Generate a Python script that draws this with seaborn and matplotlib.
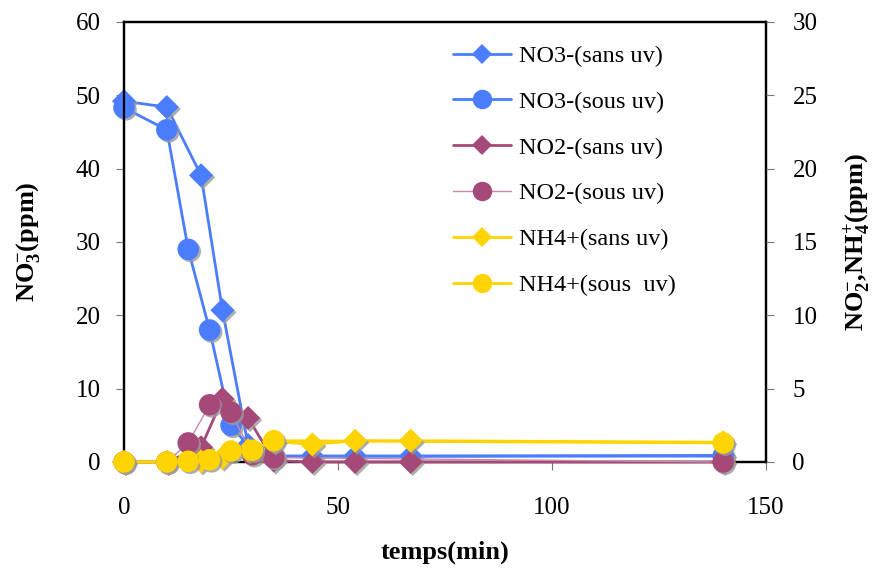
import matplotlib
matplotlib.use("Agg")
import matplotlib.pyplot as plt
import matplotlib.patheffects as pe
from matplotlib.lines import Line2D
import seaborn as sns

# ---- data ----
t_sans = [0, 10, 18, 23, 29, 35, 44, 54, 67, 140]
t_sous = [0, 10, 15, 20, 25, 30, 35, 140]
no3_sans = [49.2, 48.4, 39.1, 20.7, 2.3, 0.8, 0.8, 0.8, 0.8, 0.9]
no3_sous = [48.3, 45.3, 29.0, 18.0, 5.0, 1.5, 0.8, 0.8]
no2_sans = [0, 0, 1.0, 4.3, 3.0, 0.1, 0, 0, 0, 0]
no2_sous = [0, 0, 1.3, 3.9, 3.4, 0.5, 0.3, 0]
nh4_sans = [0, 0, 0.05, 0.3, 0.8, 1.4, 1.2, 1.45, 1.45, 1.35]
nh4_sous = [0, 0, 0.05, 0.15, 0.75, 0.8, 1.45, 1.3]
labels = ["NO3-(sans uv)", "NO3-(sous uv)", "NO2-(sans uv)", "NO2-(sous uv)",
          "NH4+(sans uv)", "NH4+(sous  uv)"]
x_ticks = [0, 50, 100, 150]
y_left_ticks = [0, 10, 20, 30, 40, 50, 60]
y_right_ticks = [0, 5, 10, 15, 20, 25, 30]

BLUE = "#4A7DFF"
PURPLE = "#A54A78"
PINK = "#C98AAA"
YELLOW = "#FFD400"

sns.set_theme(style="white")
plt.rcParams["font.family"] = ["Liberation Serif", "DejaVu Serif"]
plt.rcParams["mathtext.fontset"] = "custom"
plt.rcParams["mathtext.rm"] = "Liberation Serif"
plt.rcParams["mathtext.bf"] = "Liberation Serif:bold"
for k in ("text.color", "axes.labelcolor", "xtick.labelcolor", "ytick.labelcolor"):
    plt.rcParams[k] = "black"

fig = plt.figure(figsize=(8.72, 5.72), dpi=100)
ax = fig.add_axes([124 / 872, 1 - 462 / 572, (766 - 124) / 872, (462 - 22) / 572])
ax2 = ax.twinx()

shadow = [pe.SimplePatchShadow(offset=(1.5, -1.5), shadow_rgbFace="#9a9a9a", alpha=0.8), pe.Normal()]
D_S = 150
O_S = 240

def series(axis, x, y, color, lw, marker, msize, lcolor=None):
    sns.lineplot(x=x, y=y, ax=axis, color=lcolor or color, linewidth=lw,
                 estimator=None, sort=False, legend=False, clip_on=False)
    sns.scatterplot(x=x, y=y, ax=axis, color=color, marker=marker, s=msize,
                    edgecolor="none", linewidth=0, legend=False, path_effects=shadow,
                    zorder=3, clip_on=False)

series(ax, t_sans, no3_sans, BLUE, 2.0, "D", D_S)
series(ax, t_sous, no3_sous, BLUE, 2.0, "o", O_S)
series(ax2, t_sans, no2_sans, PURPLE, 2.0, "D", D_S)
series(ax2, t_sous, no2_sous, PURPLE, 1.0, "o", O_S, lcolor=PINK)
series(ax2, t_sans, nh4_sans, YELLOW, 2.0, "D", D_S)
series(ax2, t_sous, nh4_sous, YELLOW, 2.0, "o", O_S)

ax.set_xlim(0, 150)
ax.set_ylim(0, 60)
ax2.set_ylim(0, 30)
ax.set_xticks(x_ticks)
ax.set_yticks(y_left_ticks)
ax2.set_yticks(y_right_ticks)

for a in (ax, ax2):
    for s in a.spines.values():
        s.set_color("black")
        s.set_linewidth(1.6)
        s.set_visible(True)
        s.set_zorder(0.5)

ax.tick_params(axis="x", direction="out", length=6, width=0.8, color="#777777",
               labelsize=18, pad=19, bottom=True, labelcolor="black")
ax.tick_params(axis="y", direction="out", length=6, width=0.8, color="#777777",
               labelsize=18, pad=11, left=True, labelcolor="black")
ax2.tick_params(axis="y", direction="out", length=6, width=0.8, color="#777777",
                labelsize=18, pad=13, right=True, labelcolor="black")

ax.set_xlabel("temps(min)", fontsize=19, fontweight="bold", labelpad=16, color="black")
ax.set_ylabel(r"$\mathbf{NO_3^{-}}$(ppm)", fontsize=19, fontweight="bold", labelpad=24,
              color="black")
ax2.set_ylabel(r"$\mathbf{NO_2^{-}}$,$\mathbf{NH_4^{+}}$(ppm)", fontsize=19,
               fontweight="bold", labelpad=17, color="black")

handles = [
    Line2D([], [], color=BLUE, lw=2.0, marker="D", markersize=10, markeredgewidth=0),
    Line2D([], [], color=BLUE, lw=2.0, marker="o", markersize=14, markeredgewidth=0),
    Line2D([], [], color=PURPLE, lw=2.0, marker="D", markersize=10, markeredgewidth=0),
    Line2D([], [], color=PINK, lw=1.0, marker="o", markersize=14, markeredgewidth=0,
           markerfacecolor=PURPLE),
    Line2D([], [], color=YELLOW, lw=2.0, marker="D", markersize=10, markeredgewidth=0),
    Line2D([], [], color=YELLOW, lw=2.0, marker="o", markersize=14, markeredgewidth=0),
]
leg = fig.legend(handles, labels, loc="upper left", bbox_to_anchor=(453 / 872, 1 - 45 / 572),
                 frameon=False, fontsize=17.5, handlelength=2.4, handletextpad=0.3,
                 labelspacing=0.98, borderpad=0, borderaxespad=0)
for t in leg.get_texts():
    t.set_color("black")

fig.savefig("out.png", dpi=100)
